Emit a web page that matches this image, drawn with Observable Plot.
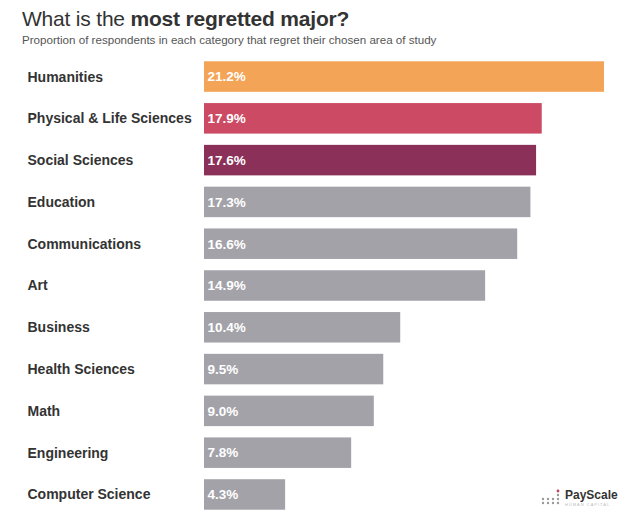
<!DOCTYPE html>
<html><head><meta charset="utf-8">
<script src="https://cdn.jsdelivr.net/npm/d3@7"></script>
<script src="https://cdn.jsdelivr.net/npm/@observablehq/plot@0.6"></script>
<style>
body{margin:0;background:#fff;font-family:"Liberation Sans",Arial,sans-serif;width:640px;height:523px;overflow:hidden;position:relative}
#title{position:absolute;left:22px;top:7px;font-size:21px;color:#333;letter-spacing:-0.2px}
#sub{position:absolute;left:22px;top:33px;font-size:11.6px;color:#555}
#chart{position:absolute;left:0;top:50px}
#logo{position:absolute;left:540px;top:487px;font-size:12px;font-weight:bold;color:#333;display:flex;align-items:center;gap:3px}
#logo small{display:block;font-size:4px;color:#bbb;font-weight:normal;letter-spacing:1px}
</style></head><body>
<div id="title">What is the <b>most regretted major?</b></div>
<div id="sub">Proportion of respondents in each category that regret their chosen area of study</div>
<div id="chart"></div>
<div id="logo"><svg width="22" height="20"><g fill="#999"><circle cx="3" cy="12" r="1.2"/><circle cx="3" cy="16" r="1.2"/><circle cx="8" cy="12" r="1.2"/><circle cx="8" cy="16" r="1.2"/><circle cx="13" cy="12" r="1.2"/><circle cx="13" cy="16" r="1.2"/><circle cx="18" cy="8" r="1.2"/><circle cx="18" cy="12" r="1.2"/><circle cx="18" cy="16" r="1.2"/></g><circle cx="18" cy="4" r="1.4" fill="#c0415e"/></svg><div>PayScale<small>HUMAN CAPITAL</small></div></div>
<script>
const majors = ["Humanities","Physical & Life Sciences","Social Sciences","Education","Communications","Art","Business","Health Sciences","Math","Engineering","Computer Science"];
const regret = [21.2,17.9,17.6,17.3,16.6,14.9,10.4,9.5,9.0,7.8,4.3];
const barColors = ["#F4A456","#CC4A63","#8A3059","#A3A2A9","#A3A2A9","#A3A2A9","#A3A2A9","#A3A2A9","#A3A2A9","#A3A2A9","#A3A2A9"];
const data = majors.map((m,i)=>({major:m, value:regret[i], color:barColors[i]}));
const chart = Plot.plot({
  width: 640, height: 471,
  marginLeft: 204, marginRight: 36, marginTop: 0, marginBottom: 0,
  x: {domain:[0,21.2], axis:null},
  y: {domain: majors, axis:null, padding:0.27, round:false},
  style:{fontFamily:"'Liberation Sans',Arial,sans-serif"},
  marks:[
    Plot.barX(data,{x:"value", y:"major", fill:"color"}),
    Plot.text(data,{y:"major", text:"major", frameAnchor:"left", dx:-177, textAnchor:"start", fontSize:14, fontWeight:"bold", fill:"#333"}),
    Plot.text(data,{y:"major", text:d=>d.value.toFixed(1)+"%", frameAnchor:"left", dx:3, textAnchor:"start", fontSize:13.5, fontWeight:"bold", fill:"#fff"})
  ]
});
document.getElementById("chart").appendChild(chart);
</script>
</body></html>
